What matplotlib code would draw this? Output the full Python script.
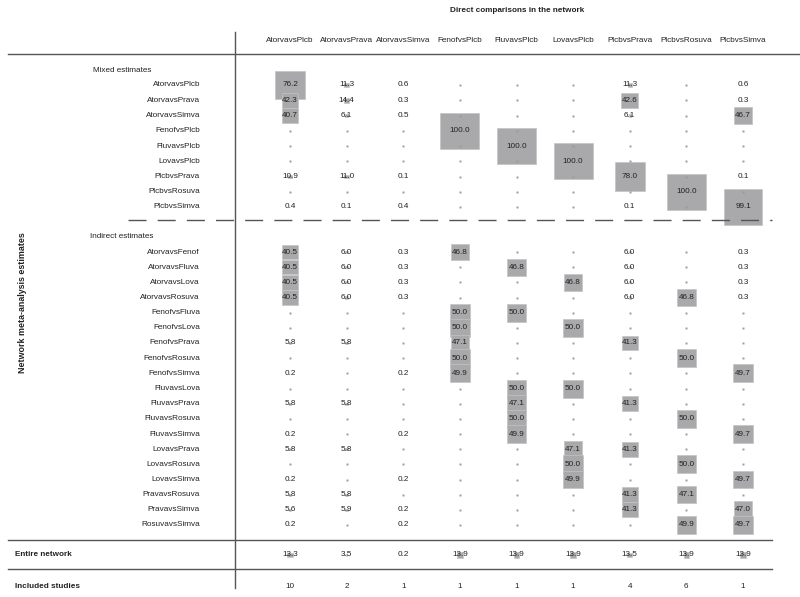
import matplotlib
matplotlib.use("Agg")
import matplotlib.pyplot as plt
from matplotlib.patches import Rectangle
import numpy as np

plt.rcParams["font.family"] = ["Liberation Sans", "DejaVu Sans"]

# direct comparisons (columns)
direct = ["AtorvavsPlcb", "AtorvavsPrava", "AtorvavsSimva", "FenofvsPlcb", "FluvavsPlcb",
          "LovavsPlcb", "PlcbvsPrava", "PlcbvsRosuva", "PlcbvsSimva"]

mixed_rows = ["AtorvavsPlcb", "AtorvavsPrava", "AtorvavsSimva", "FenofvsPlcb", "FluvavsPlcb",
              "LovavsPlcb", "PlcbvsPrava", "PlcbvsRosuva", "PlcbvsSimva"]
N = None
mixed_vals = [
    [76.2, 11.3, 0.6, N, N, N, 11.3, N, 0.6],
    [42.3, 14.4, 0.3, N, N, N, 42.6, N, 0.3],
    [40.7, 6.1, 0.5, N, N, N, 6.1, N, 46.7],
    [N, N, N, 100.0, N, N, N, N, N],
    [N, N, N, N, 100.0, N, N, N, N],
    [N, N, N, N, N, 100.0, N, N, N],
    [10.9, 11.0, 0.1, N, N, N, 78.0, N, 0.1],
    [N, N, N, N, N, N, N, 100.0, N],
    [0.4, 0.1, 0.4, N, N, N, 0.1, N, 99.1],
]

indirect_rows = ["AtorvavsFenof", "AtorvavsFluva", "AtorvavsLova", "AtorvavsRosuva",
                 "FenofvsFluva", "FenofvsLova", "FenofvsPrava", "FenofvsRosuva", "FenofvsSimva",
                 "FluvavsLova", "FluvavsPrava", "FluvavsRosuva", "FluvavsSimva",
                 "LovavsPrava", "LovavsRosuva", "LovavsSimva",
                 "PravavsRosuva", "PravavsSimva", "RosuvavsSimva"]
indirect_vals = [
    [40.5, 6.0, 0.3, 46.8, N, N, 6.0, N, 0.3],
    [40.5, 6.0, 0.3, N, 46.8, N, 6.0, N, 0.3],
    [40.5, 6.0, 0.3, N, N, 46.8, 6.0, N, 0.3],
    [40.5, 6.0, 0.3, N, N, N, 6.0, 46.8, 0.3],
    [N, N, N, 50.0, 50.0, N, N, N, N],
    [N, N, N, 50.0, N, 50.0, N, N, N],
    [5.8, 5.8, N, 47.1, N, N, 41.3, N, N],
    [N, N, N, 50.0, N, N, N, 50.0, N],
    [0.2, N, 0.2, 49.9, N, N, N, N, 49.7],
    [N, N, N, N, 50.0, 50.0, N, N, N],
    [5.8, 5.8, N, N, 47.1, N, 41.3, N, N],
    [N, N, N, N, 50.0, N, N, 50.0, N],
    [0.2, N, 0.2, N, 49.9, N, N, N, 49.7],
    [5.8, 5.8, N, N, N, 47.1, 41.3, N, N],
    [N, N, N, N, N, 50.0, N, 50.0, N],
    [0.2, N, 0.2, N, N, 49.9, N, N, 49.7],
    [5.8, 5.8, N, N, N, N, 41.3, 47.1, N],
    [5.6, 5.9, 0.2, N, N, N, 41.3, N, 47.0],
    [0.2, N, 0.2, N, N, N, N, 49.9, 49.7],
]

entire_network = [13.3, 3.5, 0.2, 13.9, 13.9, 13.9, 13.5, 13.9, 13.9]
included_studies = [10, 2, 1, 1, 1, 1, 4, 6, 1]

# layout (pixel coordinates of an 800x597 canvas)
col_x = np.linspace(290, 743, len(direct))
mixed_y = np.linspace(85, 207, len(mixed_rows))
indirect_y = np.linspace(252, 525, len(indirect_rows))
net_y, stud_y = 555, 586
box_w, box_h = 0.39, 0.36
fs = 5.9
box_col = "#a9a9ab"
txt_col = "#222222"
line_col = "#555555"

fig = plt.figure(figsize=(8, 5.97), dpi=100)
ax = fig.add_axes([0, 0, 1, 1])
ax.set_xlim(0, 800)
ax.set_ylim(597, 0)
ax.axis("off")


def draw_cell(x, y, v):
    if v is None:
        ax.plot(x, y, marker="s", ms=1.4, color="#9a9a9a", mec="none")
        return
    w, h = v * box_w, v * box_h
    ax.add_patch(Rectangle((x - w / 2, y - h / 2), w, h, facecolor=box_col,
                           edgecolor="#c4c4c4", lw=0.5, zorder=1))
    ax.text(x, y, f"{v:.1f}", ha="center", va="center", fontsize=fs, color=txt_col, zorder=2)


for rows, vals, ys in [(mixed_rows, mixed_vals, mixed_y), (indirect_rows, indirect_vals, indirect_y)]:
    for name, rv, y in zip(rows, vals, ys):
        ax.text(200, y, name, ha="right", va="center", fontsize=fs, color=txt_col)
        for x, v in zip(col_x, rv):
            draw_cell(x, y, v)

for x, v in zip(col_x, entire_network):
    draw_cell(x, net_y, v)
for x, n in zip(col_x, included_studies):
    ax.text(x, stud_y, str(n), ha="center", va="center", fontsize=fs, color=txt_col)

# headers
ax.text(517, 10, "Direct comparisons in the network", ha="center", va="center",
        fontsize=fs, fontweight="bold", color=txt_col)
for x, name in zip(col_x, direct):
    ax.text(x, 40, name, ha="center", va="center", fontsize=fs, color=txt_col)
ax.text(93, 70, "Mixed estimates", ha="left", va="center", fontsize=fs, color=txt_col)
ax.text(90, 237, "Indirect estimates", ha="left", va="center", fontsize=fs, color=txt_col)
ax.text(15, net_y, "Entire network", ha="left", va="center", fontsize=fs,
        fontweight="bold", color=txt_col)
ax.text(15, stud_y, "Included studies", ha="left", va="center", fontsize=fs,
        fontweight="bold", color=txt_col)
ax.text(23, 303, "Network meta-analysis estimates", ha="center", va="center", rotation=90,
        fontsize=6.4, fontweight="bold", color=txt_col)

# rules
ax.plot([8, 800], [54, 54], color=line_col, lw=1)
ax.plot([235, 235], [32, 588], color=line_col, lw=1)
ax.plot([128, 772], [220, 220], color=line_col, lw=1, ls=(0, (13, 8)))
ax.plot([8, 772], [540, 540], color=line_col, lw=1)
ax.plot([8, 772], [569, 569], color=line_col, lw=1)

fig.savefig("out.png", dpi=100, facecolor="white")
